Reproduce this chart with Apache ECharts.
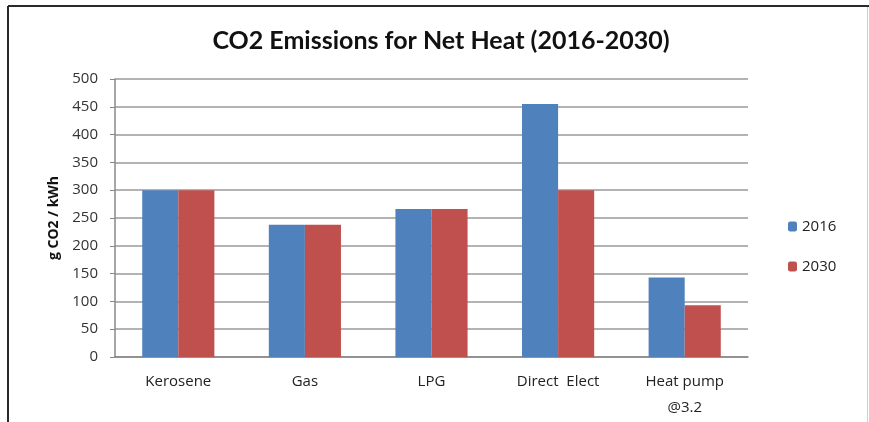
<!DOCTYPE html>
<html>
<head>
<meta charset="utf-8">
<script src="https://cdn.jsdelivr.net/npm/echarts@6/dist/echarts.min.js"></script>
<style>
  html, body { margin: 0; padding: 0; background: #fff; }
  #chart { width: 869px; height: 422px; }
</style>
</head>
<body>
<div id="chart"></div>
<script>
// Heating options and their CO2 intensity (g CO2 per kWh of net heat)
const categories = ['Kerosene', 'Gas', 'LPG', 'Direct  Elect', 'Heat pump\n@3.2'];
const values2016 = [300, 238, 266, 455, 143];
const values2030 = [300, 238, 266, 300, 93];
const yTicks = { min: 0, max: 500, step: 50 };

const chart = echarts.init(document.getElementById('chart'), null, { renderer: 'canvas' });
const titleFont = 'Lato, "Open Sans", sans-serif';
const font = '"Open Sans", Lato, sans-serif';

chart.setOption({
  backgroundColor: '#ffffff',
  animation: false,
  title: {
    text: 'CO2 Emissions for Net Heat (2016-2030)',
    left: 436,
    textAlign: 'center',
    top: 23,
    textStyle: { fontFamily: titleFont, fontSize: 25, fontWeight: 'bold', color: '#111' }
  },
  legend: {
    orient: 'vertical',
    left: 783,
    top: 214,
    itemWidth: 9,
    itemHeight: 10,
    itemGap: 25,
    textStyle: { fontFamily: font, fontSize: 15, color: '#222' },
    data: ['2016', '2030']
  },
  grid: { left: 115, right: 121, top: 79, bottom: 65, containLabel: false },
  xAxis: {
    type: 'category',
    data: categories,
    axisLine: { lineStyle: { color: '#888', width: 1.5 } },
    axisTick: { show: false },
    axisLabel: { fontFamily: font, fontSize: 15, color: '#222', margin: 12, lineHeight: 26 }
  },
  yAxis: {
    type: 'value',
    min: yTicks.min,
    max: yTicks.max,
    interval: yTicks.step,
    name: 'g CO2 / kWh',
    nameLocation: 'middle',
    nameGap: 52,
    nameRotate: 90,
    nameTextStyle: { fontFamily: font, fontSize: 14, fontWeight: 'bold', color: '#111' },
    axisLine: { show: true, lineStyle: { color: '#888', width: 1.5 } },
    axisTick: { show: true, length: 5, lineStyle: { color: '#888' } },
    axisLabel: { fontFamily: font, fontSize: 15, color: '#333', margin: 17 },
    splitLine: { lineStyle: { color: '#9a9a9a', width: 1.5 } }
  },
  series: [
    {
      name: '2016', type: 'bar', data: values2016,
      itemStyle: { color: '#4F81BD' },
      barGap: '0%', barCategoryGap: '43%'
    },
    {
      name: '2030', type: 'bar', data: values2030,
      itemStyle: { color: '#C0504D' },
      barGap: '0%', barCategoryGap: '43%'
    }
  ],
  graphic: [
    // chart frame
    { type: 'line', shape: { x1: 8, y1: 6, x2: 869, y2: 6 }, style: { stroke: '#2a2a2a', lineWidth: 2 } },
    { type: 'line', shape: { x1: 8, y1: 6, x2: 8, y2: 422 }, style: { stroke: '#2a2a2a', lineWidth: 2 } },
    { type: 'line', shape: { x1: 867.5, y1: 7, x2: 867.5, y2: 422 }, style: { stroke: '#cfcfcf', lineWidth: 1 } }
  ]
});
</script>
</body>
</html>
